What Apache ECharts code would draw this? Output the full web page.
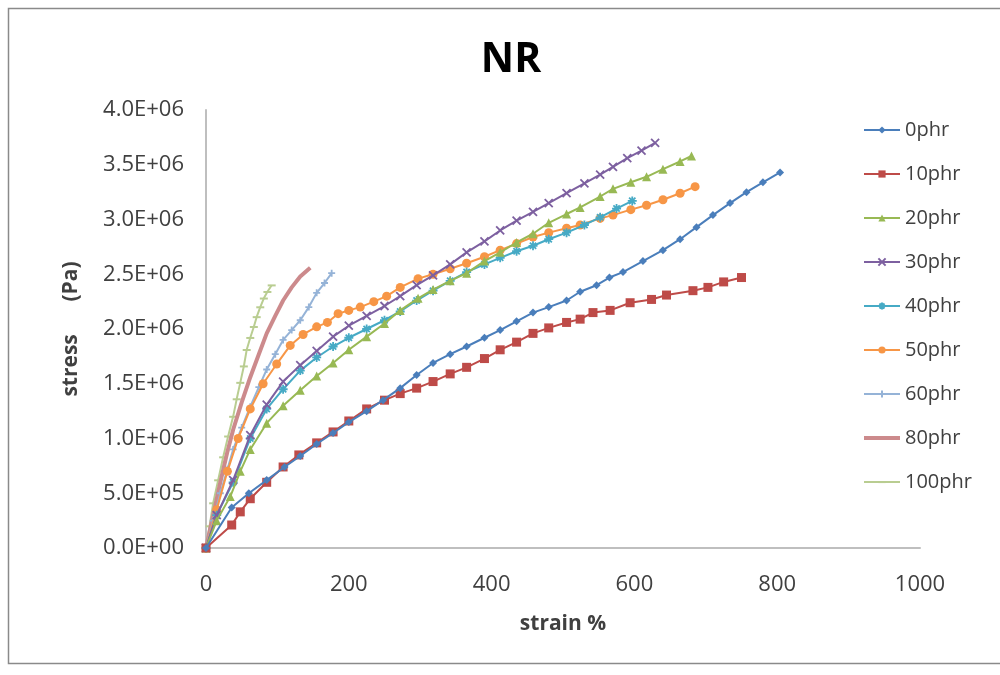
<!DOCTYPE html>
<html>
<head>
<meta charset="utf-8">
<title>NR stress-strain</title>
<script src="https://cdn.jsdelivr.net/npm/echarts@6/dist/echarts.min.js"></script>
<style>
  html, body { margin: 0; padding: 0; background: #ffffff; }
  #chart { width: 1000px; height: 675px; }
</style>
</head>
<body>
<div id="chart"></div>
<script>
// Stress–strain curves of NR compounds at different filler loadings.
// Each array holds [strain %, stress in MPa]; stress is converted to Pa when plotted.
const seriesNames = ['0phr', '10phr', '20phr', '30phr', '40phr', '50phr', '60phr', '80phr', '100phr'];

const phr0 = [[0,0],[36,0.37],[60,0.5],[85,0.62],[110,0.74],[132,0.84],[155,0.95],[178,1.05],[200,1.15],[225,1.25],[248,1.35],[272,1.46],[295,1.58],[318,1.69],[342,1.77],[365,1.84],[390,1.92],[412,1.99],[435,2.07],[458,2.15],[480,2.2],[505,2.26],[524,2.34],[547,2.40],[565,2.47],[584,2.52],[612,2.62],[640,2.72],[664,2.82],[687,2.93],[710,3.04],[734,3.15],[757,3.25],[780,3.34],[804,3.43]];
const phr10 = [[0,0],[36,0.21],[48,0.33],[62,0.45],[85,0.6],[108,0.74],[130,0.85],[155,0.96],[178,1.06],[200,1.16],[225,1.27],[250,1.35],[272,1.41],[295,1.46],[318,1.52],[342,1.59],[365,1.65],[390,1.73],[412,1.81],[435,1.88],[458,1.96],[480,2.01],[505,2.06],[524,2.09],[542,2.15],[566,2.17],[594,2.24],[624,2.27],[645,2.31],[682,2.35],[703,2.38],[725,2.43],[750,2.47]];
const phr20 = [[0,0],[15,0.25],[34,0.47],[48,0.7],[62,0.9],[85,1.14],[108,1.3],[132,1.44],[155,1.57],[178,1.69],[200,1.81],[225,1.93],[250,2.05],[272,2.17],[297,2.28],[318,2.36],[342,2.44],[365,2.51],[390,2.62],[412,2.70],[435,2.79],[458,2.87],[480,2.97],[505,3.05],[524,3.11],[552,3.21],[570,3.28],[595,3.34],[617,3.39],[640,3.46],[664,3.53],[680,3.58]];
const phr30 = [[0,0],[15,0.3],[38,0.62],[62,1.03],[85,1.31],[108,1.52],[132,1.67],[155,1.80],[178,1.93],[200,2.03],[225,2.12],[250,2.21],[272,2.30],[295,2.40],[318,2.49],[342,2.59],[365,2.70],[390,2.80],[412,2.90],[435,2.99],[458,3.07],[480,3.15],[505,3.24],[530,3.33],[552,3.41],[570,3.48],[590,3.56],[610,3.63],[629,3.70]];
const phr40 = [[0,0],[15,0.3],[38,0.6],[62,1.0],[85,1.27],[108,1.45],[132,1.62],[155,1.74],[178,1.84],[200,1.92],[225,2.0],[250,2.08],[272,2.16],[295,2.26],[318,2.35],[342,2.44],[365,2.52],[390,2.59],[412,2.65],[435,2.71],[458,2.76],[480,2.82],[505,2.88],[530,2.95],[552,3.02],[575,3.10],[597,3.17]];
const phr50 = [[0,0],[15,0.35],[30,0.7],[45,1.0],[62,1.27],[80,1.5],[99,1.68],[118,1.85],[136,1.95],[155,2.02],[170,2.06],[185,2.14],[200,2.17],[216,2.20],[235,2.25],[253,2.30],[272,2.38],[297,2.46],[318,2.50],[342,2.55],[365,2.60],[390,2.66],[412,2.72],[435,2.78],[458,2.84],[480,2.88],[505,2.92],[524,2.95],[552,3.01],[570,3.04],[595,3.09],[617,3.13],[640,3.18],[664,3.24],[685,3.30]];
const phr60 = [[0,0],[10,0.25],[20,0.5],[30,0.72],[38,0.9],[50,1.1],[62,1.29],[74,1.47],[85,1.63],[97,1.77],[108,1.90],[120,1.99],[132,2.08],[144,2.2],[155,2.33],[166,2.42],[176,2.51]];
const phr80 = [[0,0],[10,0.3],[20,0.6],[30,0.88],[38,1.08],[50,1.33],[62,1.56],[74,1.77],[85,1.96],[97,2.12],[108,2.26],[120,2.38],[132,2.48],[146,2.56]];
const phr100 = [[0,0],[5,0.2],[10,0.41],[17,0.62],[24,0.83],[31,1.02],[38,1.2],[43,1.36],[48,1.51],[53,1.66],[57,1.81],[62,1.92],[67,2.02],[71,2.11],[76,2.2],[81,2.28],[86,2.34],[92,2.40]];

const xTickLabels = ['0', '200', '400', '600', '800', '1000'];
const yTickLabels = ['0.0E+00', '5.0E+05', '1.0E+06', '1.5E+06', '2.0E+06', '2.5E+06', '3.0E+06', '3.5E+06', '4.0E+06'];

const FONT = 'Open Sans';
const TEXT = '#404040';

// open-stroke marker shapes (each spans both axes so it scales cleanly)
const SYM_X = 'path://M0,0L10,10M10,0L0,10';
const SYM_STAR = 'path://M5,0L5,10M0,5L10,5M1.5,1.5L8.5,8.5M8.5,1.5L1.5,8.5';
const SYM_PLUS = 'path://M5,0L5,10M0,5L10,5';
// short horizontal dash inside a square frame of empty corner points
const SYM_DASH = 'path://M0,0L0,0M0,4L10,4L10,6.5L0,6.5ZM10,10L10,10';
// zero-area shape: keeps the legend entry a plain thick line
const SYM_HIDDEN = 'path://M0,0L10,10';

const styles = [
  { data: phr0,   color: '#4A7EBB', symbol: 'diamond',  size: 8, width: 2 },
  { data: phr10,  color: '#BE4B48', symbol: 'rect',     size: 9, width: 2 },
  { data: phr20,  color: '#98B954', symbol: 'triangle', size: 9, width: 2 },
  { data: phr30,  color: '#7D60A0', symbol: SYM_X,      size: 8, width: 2, stroke: true },
  { data: phr40,  color: '#46AAC5', symbol: SYM_STAR,   size: 9, width: 2, stroke: true },
  { data: phr50,  color: '#F79646', symbol: 'circle',   size: 9, width: 2 },
  { data: phr60,  color: '#95B3D7', symbol: SYM_PLUS,   size: 7, width: 2, stroke: true },
  { data: phr80,  color: '#CC8A8C', symbol: SYM_HIDDEN, size: 1, width: 4, noMarker: true },
  { data: phr100, color: '#B9CD91', symbol: SYM_DASH,   size: 8, width: 2 }
];

const series = styles.map((s, i) => ({
  name: seriesNames[i],
  type: 'line',
  data: s.data.map(p => [p[0], p[1] * 1e6]),
  symbol: s.symbol,
  symbolSize: s.size,
  showSymbol: !s.noMarker,
  lineStyle: { color: s.color, width: s.width },
  itemStyle: s.stroke
    ? { color: s.color, borderColor: s.color, borderWidth: 1.8 }
    : { color: s.color, borderWidth: 0 },
  emphasis: { disabled: true },
  z: 10 - i
}));

const legendData = seriesNames.map((name, i) => (
  styles[i].noMarker ? { name: name, lineStyle: { width: styles[i].width } } : { name: name }
));

const chart = echarts.init(document.getElementById('chart'), null, { renderer: 'canvas' });
chart.setOption({
  animation: false,
  backgroundColor: '#ffffff',
  title: {
    text: 'NR',
    left: 506,
    top: 35,
    textAlign: 'center',
    textStyle: { fontFamily: FONT, fontSize: 41, fontWeight: 'bold', color: '#000000' }
  },
  graphic: [{
    type: 'rect',
    shape: { x: 8.5, y: 8.5, width: 1100, height: 655 },
    style: { fill: 'none', stroke: '#8a8a8a', lineWidth: 1.5 },
    silent: true,
    z: -1
  }],
  legend: {
    orient: 'vertical',
    left: 857,
    top: 115,
    itemWidth: 36,
    itemHeight: 9,
    itemGap: 24,
    data: legendData,
    textStyle: { fontFamily: FONT, fontSize: 20, color: TEXT },
    selectedMode: false
  },
  grid: { left: 206, right: 80, top: 110, bottom: 127, containLabel: false },
  xAxis: {
    type: 'value',
    min: 0, max: 1000, interval: 200,
    name: 'strain %',
    nameLocation: 'middle',
    nameGap: 66,
    nameTextStyle: { fontFamily: FONT, fontSize: 21, fontWeight: 'bold', color: TEXT },
    axisLine: { show: true, lineStyle: { color: '#BFBFBF', width: 2 } },
    axisTick: { show: false },
    splitLine: { show: false },
    axisLabel: {
      margin: 26,
      fontFamily: FONT, fontSize: 22, color: TEXT,
      formatter: v => xTickLabels[Math.round(v / 200)]
    }
  },
  yAxis: {
    type: 'value',
    min: 0, max: 4e6, interval: 5e5,
    name: 'stress      (Pa)',
    nameLocation: 'middle',
    nameGap: 124,
    nameRotate: 90,
    nameTextStyle: { fontFamily: FONT, fontSize: 21, fontWeight: 'bold', color: TEXT },
    axisLine: { show: true, lineStyle: { color: '#BFBFBF', width: 2 } },
    axisTick: { show: false },
    splitLine: { show: false },
    axisLabel: {
      margin: 22,
      fontFamily: FONT, fontSize: 22, color: TEXT,
      formatter: v => yTickLabels[Math.round(v / 5e5)]
    }
  },
  series: series
});
</script>
</body>
</html>
